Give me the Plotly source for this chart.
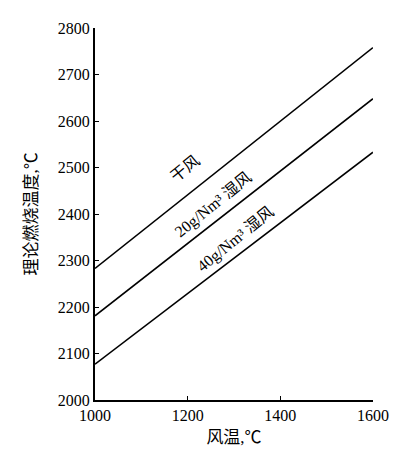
import plotly.graph_objects as go

# blast temperature, deg C
wind_temp = [1000, 1600]
# theoretical flame temperature, deg C
dry_air = [2283, 2758]
humid_20 = [2181, 2648]
humid_40 = [2077, 2533]

labels = ['干风', '20g/Nm³ 湿风', '40g/Nm³ 湿风']
label_x = [1194, 1255, 1304]
label_y = [2498, 2419, 2346]

x_ticks = [1000, 1200, 1400, 1600]
y_ticks = [2000, 2100, 2200, 2300, 2400, 2500, 2600, 2700, 2800]

FONT = 'Liberation Serif, Noto Sans CJK SC, serif'


def main() -> None:
    fig = go.Figure()

    for ys in (dry_air, humid_20, humid_40):
        fig.add_trace(
            go.Scatter(
                x=wind_temp,
                y=ys,
                mode='lines',
                line=dict(color='black', width=1.6),
                showlegend=False,
                hoverinfo='skip',
            )
        )

    for text, lx, ly in zip(labels, label_x, label_y):
        fig.add_annotation(
            x=lx, y=ly, text=text, showarrow=False, textangle=-39,
            font=dict(family=FONT, size=16, color='black'),
        )

    # page body has an 8px margin, so size and margins are trimmed for it
    fig.update_layout(
        width=394,
        height=448,
        margin=dict(l=87, r=29, t=12, b=52),
        paper_bgcolor='white',
        plot_bgcolor='white',
        font=dict(family=FONT, size=16, color='black'),
        showlegend=False,
    )
    fig.update_xaxes(
        range=[1000, 1600],
        tickvals=x_ticks,
        ticks='inside',
        ticklen=4,
        tickcolor='black',
        showline=True,
        linecolor='black',
        linewidth=2,
        showgrid=False,
        zeroline=False,
        tickfont=dict(size=16),
        title=dict(text='风温,℃', font=dict(size=17), standoff=8),
    )
    fig.update_yaxes(
        range=[2000, 2800],
        tickvals=y_ticks,
        ticks='inside',
        ticklen=4,
        tickcolor='black',
        showline=True,
        linecolor='black',
        linewidth=2,
        showgrid=False,
        zeroline=False,
        tickfont=dict(size=16),
        title=dict(text='理论燃烧温度,℃', font=dict(size=17), standoff=16),
    )

    fig.write_html('out.html')


if __name__ == '__main__':
    main()
